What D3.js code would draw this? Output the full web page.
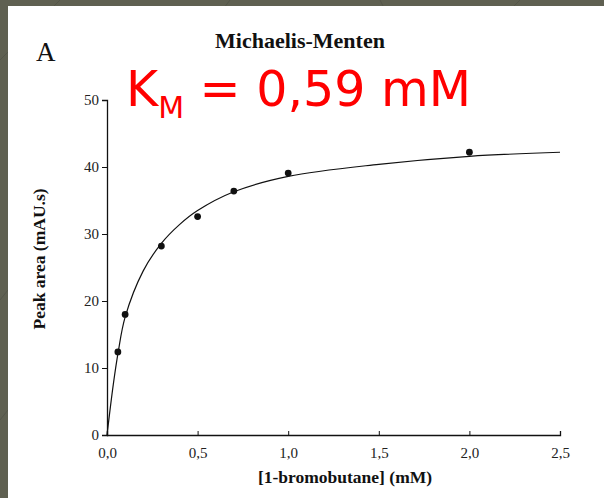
<!DOCTYPE html>
<html>
<head>
<meta charset="utf-8">
<script src="https://cdn.jsdelivr.net/npm/d3@7"></script>
<style>
  html, body { margin: 0; padding: 0; background: #5f6051; }
  svg { display: block; }
</style>
</head>
<body>
<div id="chart"></div>
<script>
// measured points
const substrate = [0.06, 0.1, 0.3, 0.5, 0.7, 1.0, 2.0];
const peakArea = [12.4, 18.0, 28.2, 32.6, 36.4, 39.1, 42.2];

// fitted curve
const fitX = [0, 0.035, 0.062, 0.1, 0.2, 0.3, 0.4, 0.5, 0.7, 1.0, 1.5, 2.0, 2.5];
const fitY = [0, 7.6, 12.4, 17.6, 24.5, 28.6, 31.4, 33.5, 36.3, 38.6, 40.4, 41.6, 42.2];

const xTicks = [0, 0.5, 1.0, 1.5, 2.0, 2.5];
const yTicks = [0, 10, 20, 30, 40, 50];

const W = 604, H = 498;
const svg = d3.select('#chart').append('svg')
    .attr('width', W).attr('height', H);

// slide background + white panel
svg.append('rect').attr('width', W).attr('height', H).attr('fill', '#5f6051');
const bgLines = [[60, 0, 0, 60], [230, 0, 215, 20], [380, 0, 390, 20], [520, 0, 500, 20], [0, 300, 8, 290], [0, 420, 8, 410]];
svg.selectAll('.bgl').data(bgLines).enter().append('line')
    .attr('x1', d => d[0]).attr('y1', d => d[1]).attr('x2', d => d[2]).attr('y2', d => d[3])
    .attr('stroke', '#55564a').attr('stroke-width', 1);
svg.append('rect').attr('x', 8).attr('y', 6).attr('width', W - 8).attr('height', H - 6).attr('fill', '#fff');

const x = d3.scaleLinear().domain([0, 2.5]).range([107, 560]);
const y = d3.scaleLinear().domain([0, 50]).range([435, 100]);

const serif = '"Liberation Serif", "Times New Roman", serif';
const fmt = d => d3.format('.1f')(d).replace('.', ',');

// y axis
const gy = svg.append('g').attr('transform', 'translate(107,0)')
    .call(d3.axisLeft(y).tickValues(yTicks).tickSize(5).tickPadding(3));
gy.select('.domain').attr('stroke', '#111').attr('stroke-width', 1.3);
gy.selectAll('.tick line').attr('stroke', '#111');
gy.selectAll('text').attr('font-family', serif).attr('font-size', 15).attr('fill', '#222');

// x axis, ticks pointing inward
const gx = svg.append('g').attr('transform', 'translate(0,435)')
    .call(d3.axisBottom(x).tickValues(xTicks).tickFormat(fmt).tickSize(-4).tickPadding(12));
gx.select('.domain').attr('stroke', '#111').attr('stroke-width', 1.3);
gx.selectAll('.tick line').attr('stroke', '#111');
gx.selectAll('text').attr('font-family', serif).attr('font-size', 15).attr('fill', '#222');

// fit curve
const pts = fitX.map((v, i) => [v, fitY[i]]);
svg.append('path')
    .datum(pts)
    .attr('d', d3.line().x(d => x(d[0])).y(d => y(d[1])).curve(d3.curveCatmullRom.alpha(0.5)))
    .attr('fill', 'none').attr('stroke', '#111').attr('stroke-width', 1.2);

// data points
svg.selectAll('.dot').data(substrate).enter().append('circle')
    .attr('cx', d => x(d))
    .attr('cy', (d, i) => y(peakArea[i]))
    .attr('r', 3.4).attr('fill', '#111');

// titles
svg.append('text').text('A')
    .attr('x', 36).attr('y', 61)
    .attr('font-family', serif).attr('font-size', 27).attr('fill', '#111');

svg.append('text').text('Michaelis-Menten')
    .attr('x', 300).attr('y', 48).attr('text-anchor', 'middle')
    .attr('font-family', serif).attr('font-size', 22).attr('font-weight', 'bold').attr('fill', '#111');

svg.append('text').text('[1-bromobutane] (mM)')
    .attr('x', 345).attr('y', 483).attr('text-anchor', 'middle')
    .attr('font-family', serif).attr('font-size', 17.5).attr('font-weight', 'bold').attr('fill', '#111');

svg.append('text').text('Peak area (mAU.s)')
    .attr('transform', 'translate(45,259) rotate(-90)').attr('text-anchor', 'middle')
    .attr('font-family', serif).attr('font-size', 17.5).attr('font-weight', 'bold').attr('fill', '#111');

// red Km annotation
const km = svg.append('text')
    .attr('x', 126).attr('y', 106)
    .attr('font-family', '"DejaVu Sans", Verdana, sans-serif').attr('font-size', 49).attr('fill', '#ff0000');
km.append('tspan').text('K');
km.append('tspan').text('M').attr('font-size', 30).attr('dy', 12);
km.append('tspan').text(' = 0,59 mM').attr('dy', -12);
</script>
</body>
</html>
